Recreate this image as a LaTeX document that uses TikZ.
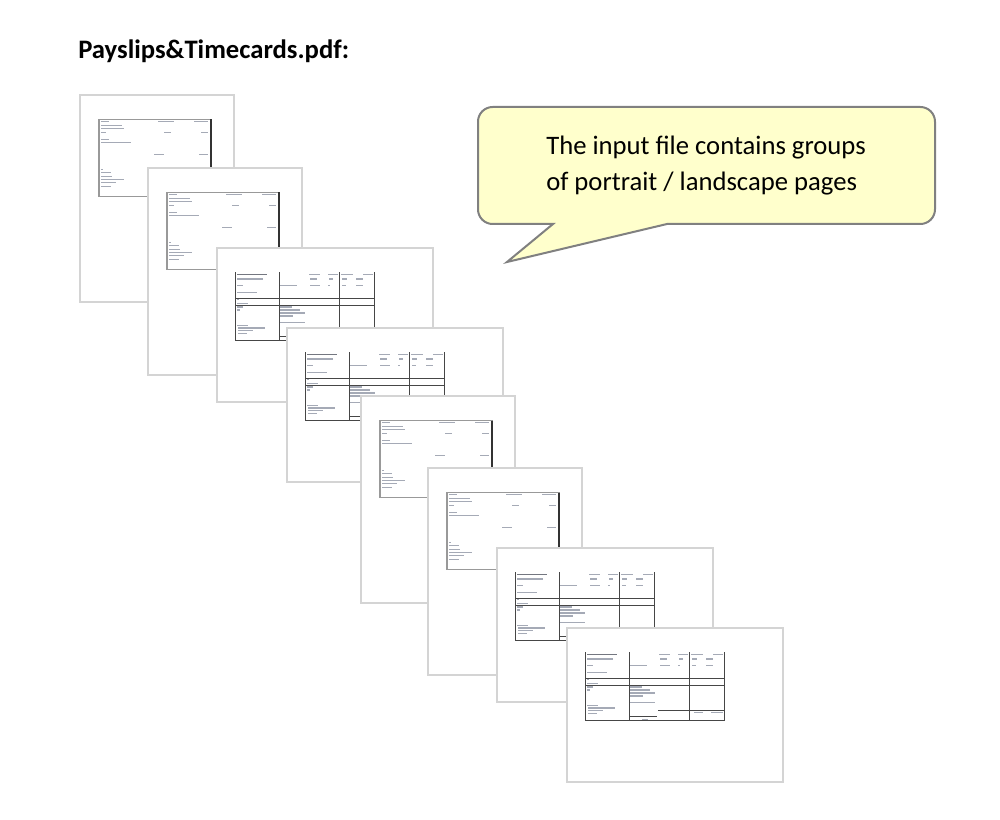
\documentclass[tikz,border=0pt]{standalone}
\usepackage{fontspec}
\setmainfont{Carlito}
\definecolor{calloutfill}{RGB}{255,255,204}
\definecolor{calloutline}{RGB}{128,128,128}
\definecolor{pageline}{RGB}{212,212,212}
\definecolor{greek}{RGB}{165,170,182}
\definecolor{tabline}{RGB}{70,70,70}
\tikzset{
  pageframe/.style={draw=pageline, fill=white, line width=1.2pt},
  grk/.style={fill=greek},
  boxframe/.style={draw=black!40, line width=1.1pt},
  boxright/.style={draw=black!80, line width=0.8pt},
  tabrule/.style={draw=tabline, line width=0.7pt},
  tabthick/.style={draw=tabline, line width=1pt},
  callout/.style={draw=calloutline, fill=calloutfill, line width=1.5pt},
  bigtext/.style={font=\fontsize{20pt}{26.8pt}\selectfont, inner sep=0pt},
}
\newcommand{\pportrait}[2]{%
  \begin{scope}[shift={(#1,#2)}]
    \draw[pageframe] (0,0) rectangle (154,207);
    \begin{scope}[shift={(19,24.5)}]
      \foreach \ry/\ra/\rb in {2.3/1.7/10, 2.3/59/75, 2.3/95/109,
        5.7/1.7/23, 9/1.7/25, 13/1.7/7, 13/65/72, 13/101.7/109,
        20/1.7/10, 23.3/1.7/32, 35/55/65, 35/100/109,
        50/1.7/4, 53.3/1.7/12, 56.7/1.7/13.3, 60/1.7/25, 63.3/1.7/17, 66.7/1.7/12}
        {\fill[grk] (\ra,\ry-0.55) rectangle (\rb,\ry+0.55);}
      \draw[boxframe] (0,0) rectangle (112,77);
      \draw[boxright] (112,0) -- (112,77);
    \end{scope}
  \end{scope}}
\newcommand{\plandscape}[3]{%
  \begin{scope}[shift={(#1,#2)}]
    \draw[pageframe] (0,0) rectangle (216,154);
    \begin{scope}[shift={(18.3,24.3)}]
      \foreach \ry/\ra/\rb in {2/74/85, 2/93/103, 2/105.3/118, 2/128/138,
        6.7/1.3/28, 6.7/74.7/81.3, 6.7/94/98, 6.7/106.3/111.3, 6.7/120.3/128,
        13/1.3/8, 13/44.7/61.3, 13/74.7/84.7, 13/93/94.7, 13/106.3/110.7, 13/120.3/128,
        20/1.3/21.3, 27.3/1.3/4, 31/1.3/13, 34.7/1.3/8, 34.7/44.7/56.3,
        37.7/1.3/4.7, 37.7/44.7/64.7, 40.7/44.7/69.7, 43.7/44.7/58, 50/44.7/69.7,
        53.3/1.3/13, 55.7/3/29.7, 58.3/3/18, 61.3/3/11.3}
        {\fill[grk] (\ra,\ry-0.55) rectangle (\rb,\ry+0.55);}
      \fill[greek!70!black] (1.3,2-0.7) rectangle (31.3,2+0.7);
      \draw[tabrule] (0,0) -- (0,67.7) -- (139.3,67.7) -- (139.3,0);
      \draw[tabrule] (44,0) -- (44,67.7);
      \draw[tabrule] (104,0) -- (104,67.7);
      \draw[tabthick] (0,26) -- (139.3,26);
      \draw[tabthick] (0,33) -- (139.3,33);
      \draw[tabrule] (44.7,63.7) -- (71.3,63.7);
      #3
    \end{scope}
  \end{scope}}
\newcommand{\lastextra}{%
  \draw[tabrule] (73,57.7) -- (139.3,57.7);
  \fill[grk] (109,60.3-0.55) rectangle (118,60.3+0.55);
  \fill[grk] (126,60.3-0.55) rectangle (138,60.3+0.55);
  \fill[grk] (57,66.7-0.5) rectangle (63,66.7+0.5);}
\begin{document}
\begin{tikzpicture}[x=0.75pt, y=-0.75pt]
  \useasboundingbox[fill=white] (0,0) rectangle (1000,820);
  % title
  \node[anchor=base west, inner sep=0pt, font=\fontsize{20pt}{24pt}\selectfont\bfseries] (title) at (78,59) {Payslips\&Timecards.pdf:};
  % pages
  \pportrait{80}{95}
  \pportrait{148}{168}
  \plandscape{217}{248}{}
  \plandscape{287}{328}{}
  \pportrait{361}{396}
  \pportrait{428}{468}
  \plandscape{497}{548}{}
  \plandscape{567}{628}{\lastextra}
  % callout
  \draw[callout] (507,262) -- (553,224) -- (540,224) [rounded corners=11pt] -- (478,224) -- (478,107) -- (935,107) -- (935,224) -- (700,224) [sharp corners] -- (667,224) -- cycle;
  \node[bigtext, anchor=base west] (cl1) at (546,155) {The input file contains groups};
  \node[bigtext, anchor=base west] (cl2) at (546,190.7) {of portrait / landscape pages};
\end{tikzpicture}
\end{document}
